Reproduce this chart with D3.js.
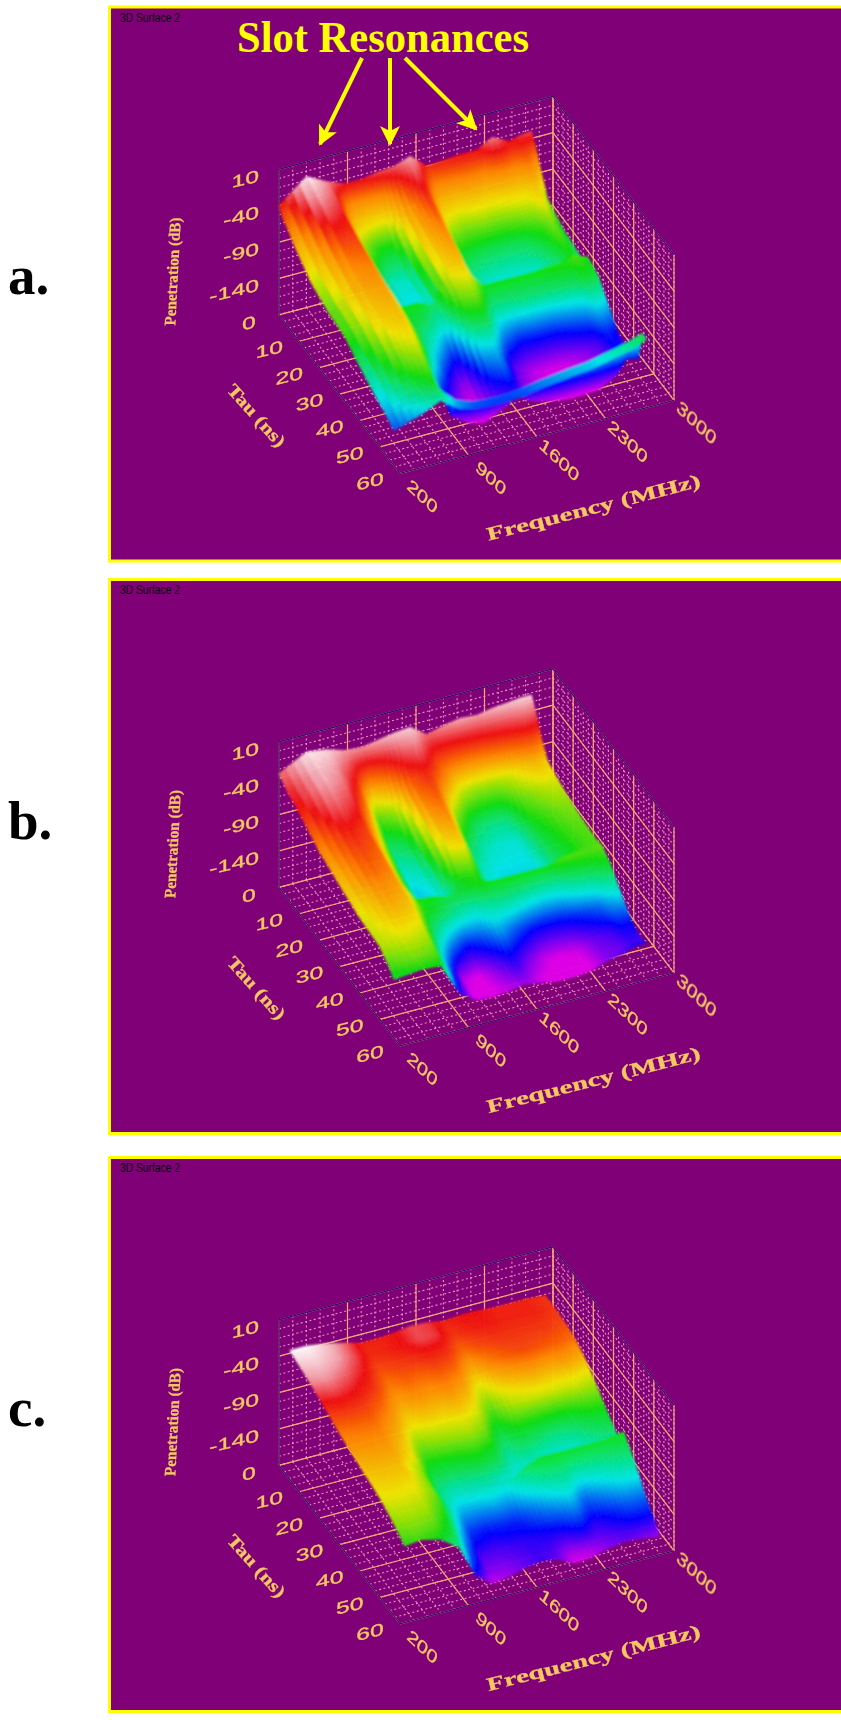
<!DOCTYPE html>
<html>
<head>
<meta charset="utf-8">
<title>Slot Resonances</title>
<script src="https://cdn.jsdelivr.net/npm/d3@7"></script>
<style>
  html, body { margin: 0; padding: 0; background: #fff; }
  svg { display: block; }
</style>
</head>
<body>
<svg id="chart"></svg>
<script>
const width = 841;
const height = 1720;

// axis ticks
const freqTicks = [200, 900, 1600, 2300, 3000];
const tauTicks = [0, 10, 20, 30, 40, 50, 60];
const zTicks = [10, -40, -90, -140];

// frequency (MHz) of each surface column
const freqA = [200, 480, 680, 870, 1040, 1210, 1380, 1540, 1710, 1880, 2050, 2220, 2380, 2550, 2660, 2780];
const freqB = freqA;
const freqC = [310, 480, 680, 870, 1040, 1210, 1380, 1540, 1710, 1880, 2050, 2220, 2380, 2550, 2720, 2920];

// tau (ns) of each surface row
const tauA = [0, 2, 5, 8, 16, 25, 28, 33, 38, 43, 48, 53, 55, 57];
const tauB = [0, 2, 5, 8, 14, 20, 26, 32, 35, 39, 44, 50, 55, 57];
const tauC = [0, 5, 10, 15, 20, 25, 30, 35, 37, 39, 45, 50, 55, 57];

// penetration (dB), one list per frequency column
const surfA = [
  [-40, -50, -58, -68, -88, -98, -99, -102, -112, -120, -128, -134, -138, -142],
  [-10, -14, -20, -26, -44, -60, -64, -70, -76, -86, -97, -112, -120, -130],
  [-24, -26, -30, -34, -44, -54, -58, -64, -70, -78, -88, -100, -108, -118],
  [-34, -54, -70, -84, -104, -118, -102, -106, -110, -120, -146, -160, -132, -136],
  [-34, -55, -80, -100, -122, -128, -102, -112, -128, -150, -168, -176, -140, -142],
  [-30, -52, -82, -102, -122, -128, -112, -125, -150, -172, -180, -182, -142, -144],
  [-28, -36, -46, -56, -66, -76, -84, -96, -114, -134, -150, -170, -142, -144],
  [-20, -24, -30, -36, -50, -66, -78, -92, -110, -130, -142, -158, -140, -142],
  [-40, -48, -62, -76, -104, -122, -102, -116, -136, -160, -168, -170, -136, -138],
  [-38, -46, -64, -82, -108, -128, -102, -116, -148, -172, -176, -176, -133, -135],
  [-36, -44, -60, -78, -110, -128, -102, -114, -146, -176, -180, -180, -130, -132],
  [-36, -44, -62, -80, -110, -128, -102, -114, -146, -176, -180, -180, -128, -130],
  [-24, -34, -56, -76, -108, -126, -100, -112, -140, -170, -178, -178, -123, -125],
  [-36, -42, -58, -76, -100, -112, -100, -110, -135, -160, -168, -166, -118, -120],
  [-32, -38, -52, -68, -90, -102, -96, -104, -124, -146, -150, -146, -114, -116],
  [-30, -44, -70, -94, -108, -114, -102, -108, -130, -152, -156, -150, -108, -110]
];
const surfB = [
  [-34, -38, -45, -48, -58, -68, -74, -80, -82, -86, -88, -90, -102, -110],
  [-14, -16, -20, -22, -32, -46, -54, -60, -66, -70, -76, -86, -96, -106],
  [-18, -20, -26, -30, -42, -54, -60, -66, -70, -74, -80, -90, -100, -108],
  [-26, -34, -46, -56, -76, -90, -100, -108, -104, -104, -116, -135, -148, -152],
  [-28, -56, -82, -100, -116, -126, -132, -134, -106, -112, -136, -166, -170, -168],
  [-24, -46, -70, -90, -110, -120, -128, -130, -112, -122, -150, -172, -172, -170],
  [-20, -30, -46, -58, -66, -74, -84, -106, -110, -128, -144, -160, -166, -168],
  [-18, -24, -36, -48, -58, -68, -80, -102, -106, -122, -134, -150, -160, -164],
  [-34, -44, -56, -64, -92, -112, -124, -130, -106, -120, -142, -160, -168, -168],
  [-28, -46, -66, -86, -112, -124, -130, -132, -106, -124, -150, -168, -172, -172],
  [-24, -44, -68, -92, -118, -128, -130, -132, -106, -128, -152, -170, -174, -172],
  [-26, -42, -66, -92, -118, -128, -130, -132, -106, -128, -150, -168, -172, -170],
  [-22, -38, -62, -88, -100, -108, -112, -114, -100, -120, -146, -160, -162, -162],
  [-20, -34, -56, -76, -92, -100, -104, -106, -100, -116, -140, -156, -160, -158],
  [-18, -30, -54, -74, -88, -96, -100, -102, -100, -112, -132, -150, -156, -152],
  [-18, -34, -60, -80, -88, -94, -98, -100, -98, -108, -128, -150, -156, -152]
];
const surfC = [
  [-36, -40, -44, -49, -55, -61, -65, -69, -71, -72, -77, -84, -93, -98],
  [-36, -39, -43, -48, -54, -60, -64, -68, -70, -71, -76, -82, -90, -95],
  [-40, -42, -46, -50, -55, -60, -64, -68, -70, -71, -77, -84, -94, -102],
  [-46, -47, -50, -54, -60, -66, -72, -78, -84, -86, -90, -100, -112, -120],
  [-52, -53, -57, -62, -68, -76, -92, -108, -114, -118, -125, -140, -155, -165],
  [-52, -52, -55, -59, -65, -73, -88, -112, -124, -132, -155, -168, -176, -182],
  [-50, -50, -54, -60, -66, -74, -86, -108, -122, -130, -160, -170, -176, -178],
  [-47, -47, -52, -58, -64, -72, -84, -104, -118, -126, -158, -168, -172, -172],
  [-48, -48, -53, -60, -68, -78, -92, -112, -126, -132, -158, -166, -168, -168],
  [-52, -54, -60, -70, -84, -100, -118, -130, -134, -114, -148, -164, -170, -172],
  [-50, -52, -56, -62, -72, -84, -106, -128, -134, -104, -136, -162, -180, -184],
  [-50, -51, -54, -58, -68, -80, -112, -135, -138, -104, -128, -152, -178, -182],
  [-52, -52, -54, -56, -66, -79, -118, -138, -138, -104, -148, -166, -174, -176],
  [-52, -52, -54, -57, -68, -80, -116, -136, -136, -104, -138, -160, -170, -172],
  [-52, -52, -54, -58, -66, -80, -104, -124, -128, -104, -128, -150, -168, -174],
  [-54, -54, -56, -60, -70, -84, -100, -114, -118, -100, -125, -150, -170, -178]
];

// colour ramp, each plot is normalised to its own range
const rampColors = ["#e000e8", "#0000ff", "#00e8e8", "#10e010", "#f0e800", "#ff8800", "#f01010", "#f4a0a8", "#ffffff"];
const rampA = [-178, -150, -126, -102, -80, -54, -36, -22, -10];
const rampB = [-170, -150, -130, -106, -84, -66, -46, -26, -12];
const rampC = [-184, -162, -134, -100, -76, -62, -50, -43, -36];

const panels = [
  { top: 5.5, letter: "a.", letterY: 294, freqs: freqA, taus: tauA, surf: surfA, ramp: rampA },
  { top: 578, letter: "b.", letterY: 839, freqs: freqB, taus: tauB, surf: surfB, ramp: rampB },
  { top: 1156, letter: "c.", letterY: 1426, freqs: freqC, taus: tauC, surf: surfC, ramp: rampC }
];

// screen vectors of the box, taken from the plot corners
const boxLeft = 279;
const boxFloor = 309.3;
const freqVec = [274, -73];
const tauVec = [121, 158.5];

const fx = d3.scaleLinear().domain([200, 3000]).range([0, 1]);
const ty = d3.scaleLinear().domain([0, 60]).range([0, 1]);
const zh = d3.scaleLinear().domain([-190, 10]).range([0, 145.5]);

const svg = d3.select("#chart").attr("width", width).attr("height", height);
const defs = svg.append("defs");
defs.append("filter").attr("id", "blurSurf").append("feGaussianBlur").attr("stdDeviation", 0.9);
defs.append("filter").attr("id", "blurText").append("feGaussianBlur").attr("stdDeviation", 0.55);
defs.append("filter").attr("id", "blurGrid").append("feGaussianBlur").attr("stdDeviation", 0.4);
defs
  .append("marker")
  .attr("id", "head")
  .attr("viewBox", "0 0 10 10")
  .attr("refX", 9)
  .attr("refY", 5)
  .attr("markerWidth", 5)
  .attr("markerHeight", 5)
  .attr("markerUnits", "strokeWidth")
  .attr("orient", "auto")
  .append("path")
  .attr("d", "M0,0L10,5L0,10L2.5,5Z")
  .attr("fill", "#ffff00");

const line = d3.line();

panels.forEach(function (p) {
  const g = svg.append("g");
  const originY = p.top + boxFloor;

  const project = function (freq, tau, z) {
    const f = fx(freq);
    const t = ty(tau);
    return [
      boxLeft + freqVec[0] * f + tauVec[0] * t,
      originY + freqVec[1] * f + tauVec[1] * t - zh(z)
    ];
  };

  // panel frame
  g.append("rect")
    .attr("x", 109.5)
    .attr("y", p.top + 1.5)
    .attr("width", 760)
    .attr("height", 554)
    .attr("fill", "#800078")
    .attr("stroke", "#ffff00")
    .attr("stroke-width", 3);

  g.append("text")
    .attr("x", 120)
    .attr("y", p.top + 16)
    .attr("font-family", "Liberation Sans")
    .attr("font-size", 12)
    .attr("textLength", 60)
    .attr("lengthAdjust", "spacingAndGlyphs")
    .attr("fill", "#000")
    .text("3D Surface 2");

  g.append("text")
    .attr("x", 8)
    .attr("y", p.letterY)
    .attr("font-family", "Liberation Serif")
    .attr("font-weight", "bold")
    .attr("font-size", 55)
    .attr("fill", "#000")
    .text(p.letter);

  // walls and floor grid
  const grid = g.append("g").attr("filter", "url(#blurGrid)").attr("fill", "none");
  const minorFreq = d3.range(200, 3001, 140);
  const minorTau = d3.range(0, 61, 2.5);
  const minorZ = d3.range(-190, 11, 12.5);
  const segments = [];
  minorFreq.forEach(function (v) {
    segments.push([project(v, 0, -190), project(v, 0, 10)]);
    segments.push([project(v, 0, -190), project(v, 60, -190)]);
  });
  minorTau.forEach(function (v) {
    segments.push([project(3000, v, -190), project(3000, v, 10)]);
    segments.push([project(200, v, -190), project(3000, v, -190)]);
  });
  minorZ.forEach(function (v) {
    segments.push([project(200, 0, v), project(3000, 0, v)]);
    segments.push([project(3000, 0, v), project(3000, 60, v)]);
  });
  grid
    .selectAll("path.minor")
    .data(segments)
    .join("path")
    .attr("class", "minor")
    .attr("d", line)
    .attr("stroke", "#e890b8")
    .attr("stroke-width", 1.1)
    .attr("stroke-dasharray", "2 2.5");

  const majors = [];
  freqTicks.forEach(function (v) {
    majors.push([project(v, 0, -190), project(v, 0, 10)]);
    majors.push([project(v, 0, -190), project(v, 60, -190)]);
  });
  tauTicks.forEach(function (v) {
    majors.push([project(3000, v, -190), project(3000, v, 10)]);
    majors.push([project(200, v, -190), project(3000, v, -190)]);
  });
  zTicks.forEach(function (v) {
    majors.push([project(200, 0, v), project(3000, 0, v)]);
    majors.push([project(3000, 0, v), project(3000, 60, v)]);
  });
  grid
    .selectAll("path.major")
    .data(majors)
    .join("path")
    .attr("class", "major")
    .attr("d", line)
    .attr("stroke", "#eeaa70")
    .attr("stroke-width", 1.2);

  // dark box outline
  const outline = [
    [project(200, 0, -190), project(200, 0, 10), project(3000, 0, 10), project(3000, 60, 10)],
    [project(200, 0, -190), project(200, 60, -190), project(3000, 60, -190)]
  ];
  grid
    .selectAll("path.edge")
    .data(outline)
    .join("path")
    .attr("class", "edge")
    .attr("d", line)
    .attr("stroke", "#38006c")
    .attr("stroke-width", 1.3);

  // surface, far cells first, each cell split up so the colour runs smoothly
  const color = d3.scaleLinear().domain(p.ramp).range(rampColors).clamp(true);
  const stepsU = 4;
  const stepsV = 10;
  const cells = [];
  for (let j = 0; j < p.taus.length - 1; j++) {
    for (let s = 0; s < stepsV; s++) {
      for (let i = p.freqs.length - 2; i >= 0; i--) {
        for (let r = stepsU - 1; r >= 0; r--) {
          const u0 = r / stepsU;
          const u1 = (r + 1) / stepsU;
          const v0 = s / stepsV;
          const v1 = (s + 1) / stepsV;
          const at = function (u, v) {
            const freq = p.freqs[i] + (p.freqs[i + 1] - p.freqs[i]) * u;
            const tau = p.taus[j] + (p.taus[j + 1] - p.taus[j]) * v;
            const z =
              p.surf[i][j] * (1 - u) * (1 - v) +
              p.surf[i + 1][j] * u * (1 - v) +
              p.surf[i][j + 1] * (1 - u) * v +
              p.surf[i + 1][j + 1] * u * v;
            return { pt: project(freq, tau, z), z: z };
          };
          const a = at(u0, v0);
          const b = at(u1, v0);
          const c = at(u1, v1);
          const d = at(u0, v1);
          cells.push({
            pts: [a.pt, b.pt, c.pt, d.pt],
            z: (a.z + b.z + c.z + d.z) / 4
          });
        }
      }
    }
  }
  g.append("g")
    .attr("filter", "url(#blurSurf)")
    .selectAll("path")
    .data(cells)
    .join("path")
    .attr("d", (d) => line(d.pts) + "Z")
    .attr("fill", (d) => color(d.z))
    .attr("stroke", (d) => color(d.z))
    .attr("stroke-width", 0.6);

  // axis text is skewed like the box sides
  const labels = g
    .append("g")
    .attr("filter", "url(#blurText)")
    .attr("font-family", "Liberation Sans")
    .attr("fill", "#f4c860")
    .attr("stroke", "#f4c860")
    .attr("stroke-width", 0.3);

  labels
    .selectAll("text.zt")
    .data(zTicks)
    .join("text")
    .attr("class", "zt")
    .attr("text-anchor", "end")
    .attr("font-size", 16)
    .attr("transform", function (d) {
      const q = project(200, 0, d);
      return `matrix(1.55,-0.38,0,1.05,${q[0] - 20},${q[1] + 12})`;
    })
    .text((d) => d);

  labels
    .selectAll("text.tt")
    .data(tauTicks)
    .join("text")
    .attr("class", "tt")
    .attr("text-anchor", "middle")
    .attr("font-size", 16)
    .attr("transform", function (d) {
      const q = project(200, d, -190);
      return `matrix(1.55,-0.38,0,1.05,${q[0] - 30},${q[1] + 14})`;
    })
    .text((d) => d);

  labels
    .selectAll("text.ft")
    .data(freqTicks)
    .join("text")
    .attr("class", "ft")
    .attr("text-anchor", "middle")
    .attr("font-size", 16)
    .attr("transform", function (d) {
      const q = project(d, 60, -190);
      return `matrix(1.05,1,-0.45,0.9,${q[0] + 20},${q[1] + 28})`;
    })
    .text((d) => d);

  labels
    .append("text")
    .attr("text-anchor", "middle")
    .attr("font-family", "Liberation Serif")
    .attr("font-weight", "bold")
    .attr("font-size", 16)
    .attr("textLength", 108)
    .attr("lengthAdjust", "spacingAndGlyphs")
    .attr("transform", `matrix(0.05,-1,1,0,178,${p.top + 266})`)
    .text("Penetration (dB)");

  labels
    .append("text")
    .attr("text-anchor", "middle")
    .attr("font-family", "Liberation Serif")
    .attr("font-weight", "bold")
    .attr("font-size", 18)
    .attr("textLength", 78)
    .attr("lengthAdjust", "spacingAndGlyphs")
    .attr("transform", `translate(252,${p.top + 414}) rotate(48)`)
    .text("Tau (ns)");

  labels
    .append("text")
    .attr("text-anchor", "middle")
    .attr("font-family", "Liberation Serif")
    .attr("font-weight", "bold")
    .attr("font-size", 19)
    .attr("textLength", 220)
    .attr("lengthAdjust", "spacingAndGlyphs")
    .attr("transform", `translate(595,${p.top + 508}) rotate(-14.3)`)
    .text("Frequency (MHz)");
});

// annotation on the first plot
svg
  .append("text")
  .attr("x", 237)
  .attr("y", 52)
  .attr("font-family", "Liberation Serif")
  .attr("font-weight", "bold")
  .attr("font-size", 44)
  .attr("textLength", 292)
  .attr("lengthAdjust", "spacingAndGlyphs")
  .attr("fill", "#ffff00")
  .text("Slot Resonances");

const arrows = [
  [[362, 58], [320, 144]],
  [[390, 58], [390, 144]],
  [[405, 58], [476, 129]]
];
svg
  .selectAll("path.arrow")
  .data(arrows)
  .join("path")
  .attr("class", "arrow")
  .attr("d", line)
  .attr("fill", "none")
  .attr("stroke", "#ffff00")
  .attr("stroke-width", 4)
  .attr("marker-end", "url(#head)");
</script>
</body>
</html>
